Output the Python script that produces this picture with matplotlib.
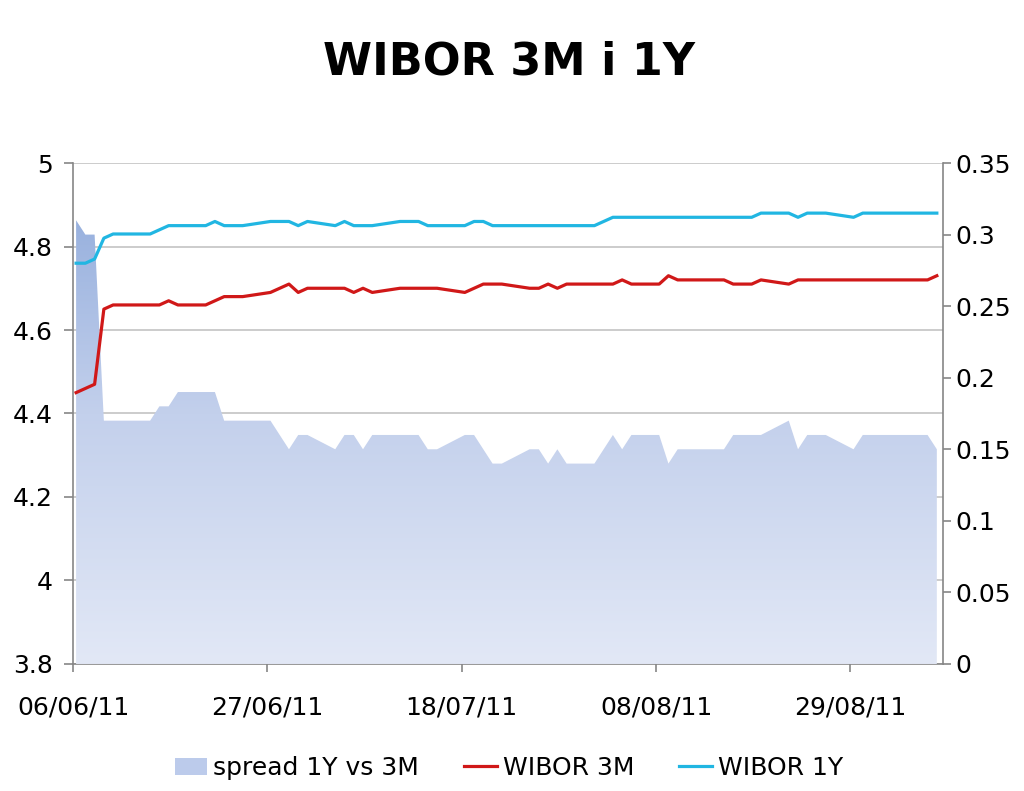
import matplotlib
matplotlib.use("Agg")
import matplotlib.pyplot as plt
import matplotlib.dates as mdates
from matplotlib.patches import Patch, Polygon
from matplotlib.lines import Line2D
from matplotlib.colors import LinearSegmentedColormap
import numpy as np
import pandas as pd

# business days 06/06/11 .. 07/09/11
dates = pd.bdate_range("2011-06-06", "2011-09-07")

wibor_3m = [
    4.45, 4.46, 4.47, 4.65, 4.66,
    4.66, 4.66, 4.66, 4.67, 4.66,
    4.66, 4.67, 4.68, 4.68, 4.68,
    4.69, 4.70, 4.71, 4.69, 4.70,
    4.70, 4.70, 4.69, 4.70, 4.69,
    4.70, 4.70, 4.70, 4.70, 4.70,
    4.69, 4.70, 4.71, 4.71, 4.71,
    4.70, 4.70, 4.71, 4.70, 4.71,
    4.71, 4.71, 4.71, 4.72, 4.71,
    4.71, 4.73, 4.72, 4.72, 4.72,
    4.72, 4.71, 4.71, 4.71, 4.72,
    4.71, 4.72, 4.72, 4.72, 4.72,
    4.72, 4.72, 4.72, 4.72, 4.72,
    4.72, 4.72, 4.73,
]
wibor_1y = [
    4.76, 4.76, 4.77, 4.82, 4.83,
    4.83, 4.83, 4.84, 4.85, 4.85,
    4.85, 4.86, 4.85, 4.85, 4.85,
    4.86, 4.86, 4.86, 4.85, 4.86,
    4.85, 4.86, 4.85, 4.85, 4.85,
    4.86, 4.86, 4.86, 4.85, 4.85,
    4.85, 4.86, 4.86, 4.85, 4.85,
    4.85, 4.85, 4.85, 4.85, 4.85,
    4.85, 4.86, 4.87, 4.87, 4.87,
    4.87, 4.87, 4.87, 4.87, 4.87,
    4.87, 4.87, 4.87, 4.87, 4.88,
    4.88, 4.87, 4.88, 4.88, 4.88,
    4.87, 4.88, 4.88, 4.88, 4.88,
    4.88, 4.88, 4.88,
]
spread = [
    0.31, 0.30, 0.30, 0.17, 0.17,
    0.17, 0.17, 0.18, 0.18, 0.19,
    0.19, 0.19, 0.17, 0.17, 0.17,
    0.17, 0.16, 0.15, 0.16, 0.16,
    0.15, 0.16, 0.16, 0.15, 0.16,
    0.16, 0.16, 0.16, 0.15, 0.15,
    0.16, 0.16, 0.15, 0.14, 0.14,
    0.15, 0.15, 0.14, 0.15, 0.14,
    0.14, 0.15, 0.16, 0.15, 0.16,
    0.16, 0.14, 0.15, 0.15, 0.15,
    0.15, 0.16, 0.16, 0.16, 0.16,
    0.17, 0.15, 0.16, 0.16, 0.16,
    0.15, 0.16, 0.16, 0.16, 0.16,
    0.16, 0.16, 0.15,
]

tick_dates = ["2011-06-06", "2011-06-27", "2011-07-18", "2011-08-08", "2011-08-29"]

x = dates + pd.Timedelta(hours=8)
xn = mdates.date2num(x.to_pydatetime())

plt.rcParams['font.family'] = ['DejaVu Sans']
grey = '#868686'

fig = plt.figure(figsize=(10.24, 7.91), dpi=100)
ax = fig.add_axes([0.0713, 0.1606, 0.8496, 0.6333])
ax_area = ax.twinx()
ax_lines = ax.twinx()

x0 = mdates.date2num(pd.Timestamp("2011-06-06").to_pydatetime())
x1 = mdates.date2num(pd.Timestamp("2011-09-08").to_pydatetime())

# left axis: grid and ticks
ax.set_ylim(3.8, 5.0)
ax.set_yticks([3.8, 4.0, 4.2, 4.4, 4.6, 4.8, 5.0])
ax.set_yticklabels(['3.8', '4', '4.2', '4.4', '4.6', '4.8', '5'])
ax.grid(axis='y', color='#c4c4c4', linewidth=1.2)
ax.set_axisbelow(True)
ax.set_xlim(x0, x1)
ax.set_xticks(mdates.date2num(pd.to_datetime(tick_dates).to_pydatetime()))
ax.xaxis.set_major_formatter(mdates.DateFormatter('%d/%m/%y'))

# spread area with vertical gradient
ax_area.set_xlim(x0, x1)
ax_area.set_ylim(0, 0.35)
ax_area.set_yticks(np.arange(0, 0.36, 0.05))
ax_area.set_yticklabels(['0', '0.05', '0.1', '0.15', '0.2', '0.25', '0.3', '0.35'])
verts = np.column_stack([np.concatenate([xn, xn[::-1]]),
                         np.concatenate([spread, np.zeros(len(spread))])])
clip = Polygon(verts, closed=True, facecolor='none', edgecolor='none',
               transform=ax_area.transData)
ax_area.add_patch(clip)
cmap = LinearSegmentedColormap.from_list('sp', ['#e2e8f6', '#c3d0ec', '#8ca8da'])
grad = np.linspace(0, 1, 256).reshape(-1, 1)
im = ax_area.imshow(grad, cmap=cmap, aspect='auto', origin='lower',
                    extent=[x0, x1, 0, 0.35], zorder=1)
im.set_clip_path(clip)
ax_area.set_xlim(x0, x1)
ax_area.set_ylim(0, 0.35)

# lines
ax_lines.set_ylim(3.8, 5.0)
ax_lines.plot(xn, wibor_3m, color='#d01818', linewidth=2.3)
ax_lines.plot(xn, wibor_1y, color='#21b6e2', linewidth=2.3)
ax_lines.set_yticks([])
ax_lines.set_xlim(x0, x1)

for a in (ax, ax_area, ax_lines):
    for s in a.spines.values():
        s.set_visible(False)
ax.spines['left'].set_visible(True)
ax.spines['bottom'].set_visible(True)
ax_area.spines['right'].set_visible(True)
for s in (ax.spines['left'], ax.spines['bottom'], ax_area.spines['right']):
    s.set_color(grey)
    s.set_linewidth(1.2)
    s.set_zorder(5)

ax.tick_params(axis='y', length=6.5, width=1.2, color=grey, pad=8, labelsize=18)
ax.tick_params(axis='x', length=6, width=1.2, color=grey, pad=17, labelsize=18)
ax_area.tick_params(axis='y', length=6, width=1.2, color=grey, pad=3, labelsize=18)

fig.suptitle('WIBOR 3M i 1Y', fontsize=32, fontweight='bold', x=0.497, y=0.949)

handles = [
    Patch(facecolor='#bccbeb', edgecolor='none'),
    Line2D([], [], color='#d01818', linewidth=2.3),
    Line2D([], [], color='#21b6e2', linewidth=2.3),
]
fig.legend(handles, ['spread 1Y vs 3M', 'WIBOR 3M', 'WIBOR 1Y'],
           loc='center', bbox_to_anchor=(0.497, 0.029), ncol=3, frameon=False,
           fontsize=18, handlelength=1.3, handletextpad=0.25, columnspacing=1.8)

fig.savefig('out.png', dpi=100)
